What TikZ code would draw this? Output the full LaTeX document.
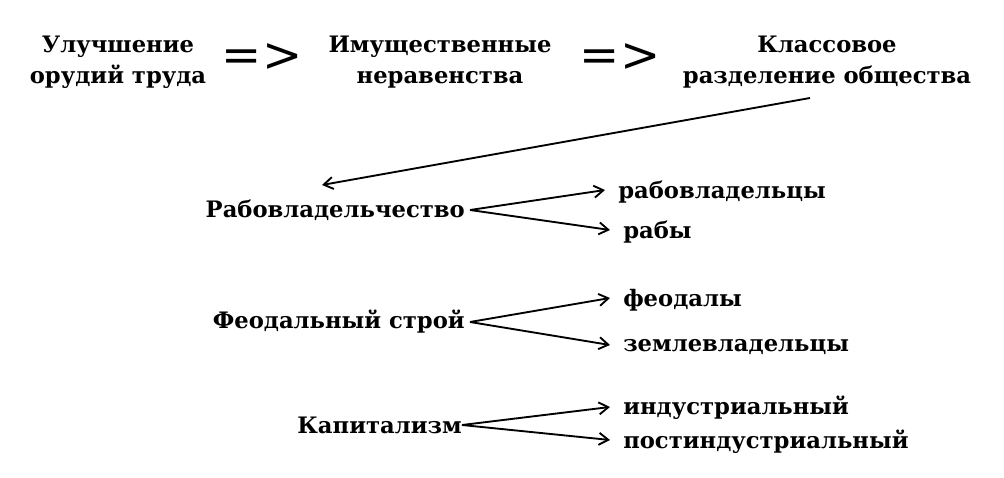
\documentclass[tikz,border=0pt]{standalone}
\usepackage{fontspec}
\setmainfont{DejaVu Serif}
\usetikzlibrary{arrows.meta}
\begin{document}
\begin{tikzpicture}[x=0.75pt,y=-0.75pt,
  lbl/.style={font=\bfseries\fontsize{17}{23}\selectfont,align=center,inner sep=0pt},
  lft/.style={lbl,anchor=west},
  rgt/.style={lbl,anchor=east},
  imp/.style={font=\fontsize{36}{36}\selectfont,inner sep=0pt},
  arr/.style={line width=1.4pt,-{Straight Barb[length=7pt,width=9pt,line width=1.4pt]}}]
\useasboundingbox (0,0) rectangle (1004,478);
\node[lbl] (a) at (118,62) {Улучшение\\орудий труда};
\node[imp] (i1) at (262,58) {=>};
\node[lbl] (b) at (440,62) {Имущественные\\неравенства};
\node[imp] (i2) at (620,58) {=>};
\node[lbl] (c) at (827,62) {Классовое\\разделение общества};
\coordinate (cs) at (810,98);
\node[rgt] (r) at (465,210) {Рабовладельчество};
\draw[arr] (cs) -- (322,185);
\node[lft] (r1) at (618,192) {рабовладельцы};
\node[lft] (r2) at (623,232) {рабы};
\coordinate (ro) at (470,210);
\draw[arr] (ro) -- (605,190);
\draw[arr] (ro) -- (610,230);
\node[rgt] (f) at (465,322) {Феодальный строй};
\node[lft] (f1) at (623,300) {феодалы};
\node[lft] (f2) at (623,347) {землевладельцы};
\coordinate (fo) at (470,322);
\draw[arr] (fo) -- (610,298);
\draw[arr] (fo) -- (610,345);
\node[rgt] (k) at (462,425) {Капитализм};
\node[lft] (k1) at (623,408) {индустриальный};
\node[lft] (k2) at (623,442) {постиндустриальный};
\coordinate (ko) at (462,425);
\draw[arr] (ko) -- (610,407);
\draw[arr] (ko) -- (610,440);
\end{tikzpicture}
\end{document}
